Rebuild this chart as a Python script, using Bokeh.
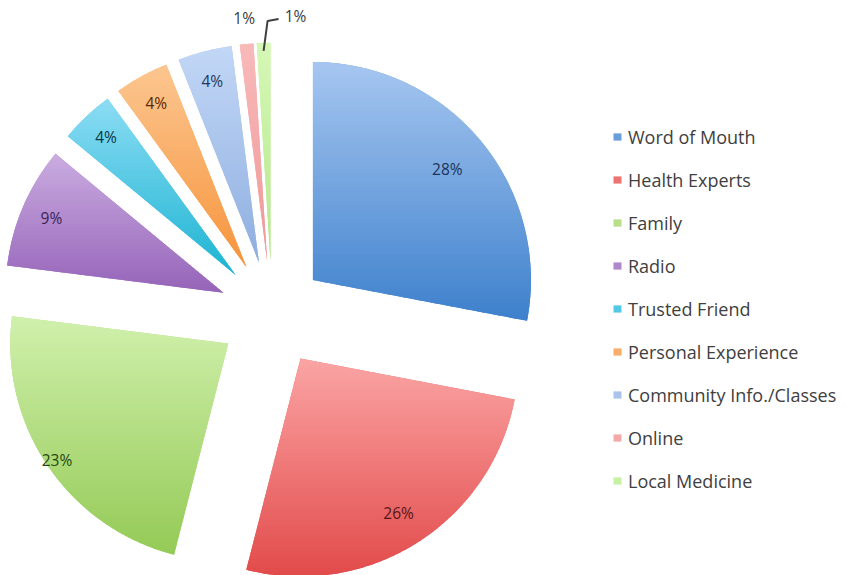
import numpy as np
from bokeh.plotting import figure
from bokeh.models import Legend, LegendItem, Range1d
from bokeh.embed import file_html
from bokeh.resources import INLINE
from bokeh.core.properties import value

# ---- data ----
categories = ["Word of Mouth", "Health Experts", "Family", "Radio", "Trusted Friend",
              "Personal Experience", "Community Info./Classes", "Online", "Local Medicine"]
shares = [28, 26, 23, 9, 4, 4, 4, 1, 1]
labels = [f"{v}%" for v in shares]

# ---- style ----
colors = ["#6a9ddc", "#ee7272", "#b6df88", "#ae88ca", "#52c8e4",
          "#f9ad66", "#a9c3eb", "#f4a9a9", "#c6f0a2"]
top_colors = ["#a6c6f0", "#fba4a4", "#d0f0ac", "#caace0", "#8cdcf4",
              "#fcc690", "#c2d7f6", "#f8baba", "#d6f8b6"]
bottom_colors = ["#3d80cc", "#e24a4a", "#94ca56", "#9563b8", "#1cb4d2",
                 "#f6943c", "#8eaee0", "#f09696", "#b4e68c"]
label_colors = ["#1a3358", "#561616", "#284510", "#3a2354", "#0b3846",
                "#572a05", "#1c3860", "#3a3a3a", "#3a3a3a"]
label_frac = [0.80, 0.84, 0.95, 0.86, 0.87, 0.86, 0.86, 1.12, None]

W, H = 845, 575
CX, CY = 271.6, 575 - 313.3   # pie centre (data units = px)
R = 218.0
EXPLODE = 53.0

vals = np.array(shares, dtype=float)
frac = vals / vals.sum()
theta_end = np.cumsum(frac) * 360.0          # clockwise from 12 o'clock
theta_start = theta_end - frac * 360.0
theta_mid = (theta_start + theta_end) / 2
tm = np.radians(theta_mid)
ax = CX + EXPLODE * np.sin(tm)
ay = CY + EXPLODE * np.cos(tm)


def hex2rgb(h):
    h = h.lstrip("#")
    return np.array([int(h[k:k + 2], 16) for k in (0, 2, 4)], dtype=float)


def rgb2hex(c):
    c = np.clip(np.round(c), 0, 255).astype(int)
    return "#%02x%02x%02x" % tuple(c)


def clip(poly, y0, keep_above):
    out = []
    n = len(poly)
    for k in range(n):
        p1 = poly[k]; p2 = poly[(k + 1) % n]
        in1 = (p1[1] >= y0) if keep_above else (p1[1] <= y0)
        in2 = (p2[1] >= y0) if keep_above else (p2[1] <= y0)
        if in1:
            out.append(p1)
        if in1 != in2:
            t = (y0 - p1[1]) / (p2[1] - p1[1])
            out.append((p1[0] + t * (p2[0] - p1[0]), y0))
    return out


p = figure(width=W, height=H, x_range=Range1d(0, W), y_range=Range1d(0, H),
           output_backend="svg", toolbar_location=None, min_border=0,
           x_axis_type=None, y_axis_type=None)
p.grid.visible = False
p.outline_line_color = None
p.background_fill_color = "white"

items = []
band_xs, band_ys, band_cols = [], [], []
for i in range(len(categories)):
    r = p.wedge(x=ax[i], y=ay[i], radius=R, start_angle=90 - theta_end[i],
                end_angle=90 - theta_start[i], start_angle_units="deg",
                end_angle_units="deg", fill_color=colors[i], line_color=None)
    items.append(LegendItem(label=categories[i], renderers=[r]))
    # vertical gradient approximation over the slice
    th = np.radians(np.linspace(theta_start[i], theta_end[i], 80))
    poly = [(ax[i], ay[i])] + [(ax[i] + R * np.sin(t), ay[i] + R * np.cos(t)) for t in th]
    ymin = min(q[1] for q in poly); ymax = max(q[1] for q in poly)
    ct = hex2rgb(top_colors[i]); cb = hex2rgb(bottom_colors[i])
    step = 3.0
    y = ymin
    while y < ymax:
        y1 = min(y + step, ymax)
        band = clip(clip(poly, y - 0.6, True), y1 + 0.6, False)
        if len(band) >= 3:
            f = ((y + y1) / 2 - ymin) / (ymax - ymin)
            band_xs.append([q[0] for q in band]); band_ys.append([q[1] for q in band])
            band_cols.append(rgb2hex(cb + (ct - cb) * f))
        y = y1
p.patches(xs=band_xs, ys=band_ys, fill_color=band_cols, line_color=None)

# data labels
lx, ly, lt, lc = [], [], [], []
for i in range(len(categories)):
    if label_frac[i] is None:
        continue
    lx.append(ax[i] + label_frac[i] * R * np.sin(tm[i]))
    ly.append(ay[i] + label_frac[i] * R * np.cos(tm[i]))
    lt.append(labels[i]); lc.append(label_colors[i])
p.text(x=lx, y=ly, text=lt, text_color=lc, text_font=value("Open Sans"),
       text_font_size="15.5px", text_align="center", text_baseline="middle")

# leader line for the last slice
i = len(categories) - 1
sx = ax[i] + R * np.sin(tm[i]); sy = ay[i] + R * np.cos(tm[i])
p.line(x=[sx, sx + 4, sx + 15], y=[sy - 8, sy + 22, sy + 24], line_color="#404040", line_width=2)
p.text(x=[sx + 32], y=[sy + 27], text=[labels[i]], text_color=label_colors[i],
       text_font=value("Open Sans"), text_font_size="15.5px",
       text_align="center", text_baseline="middle")

legend = Legend(items=items, location=(612, 82), padding=0, margin=0,
                glyph_width=10, glyph_height=9, label_standoff=6,
                label_height=25, spacing=18, border_line_color=None,
                background_fill_alpha=0,
                label_text_font="Open Sans", label_text_font_size="18px",
                label_text_color="#404040")
p.add_layout(legend)

open("out.html", "w").write(file_html(p, INLINE))
